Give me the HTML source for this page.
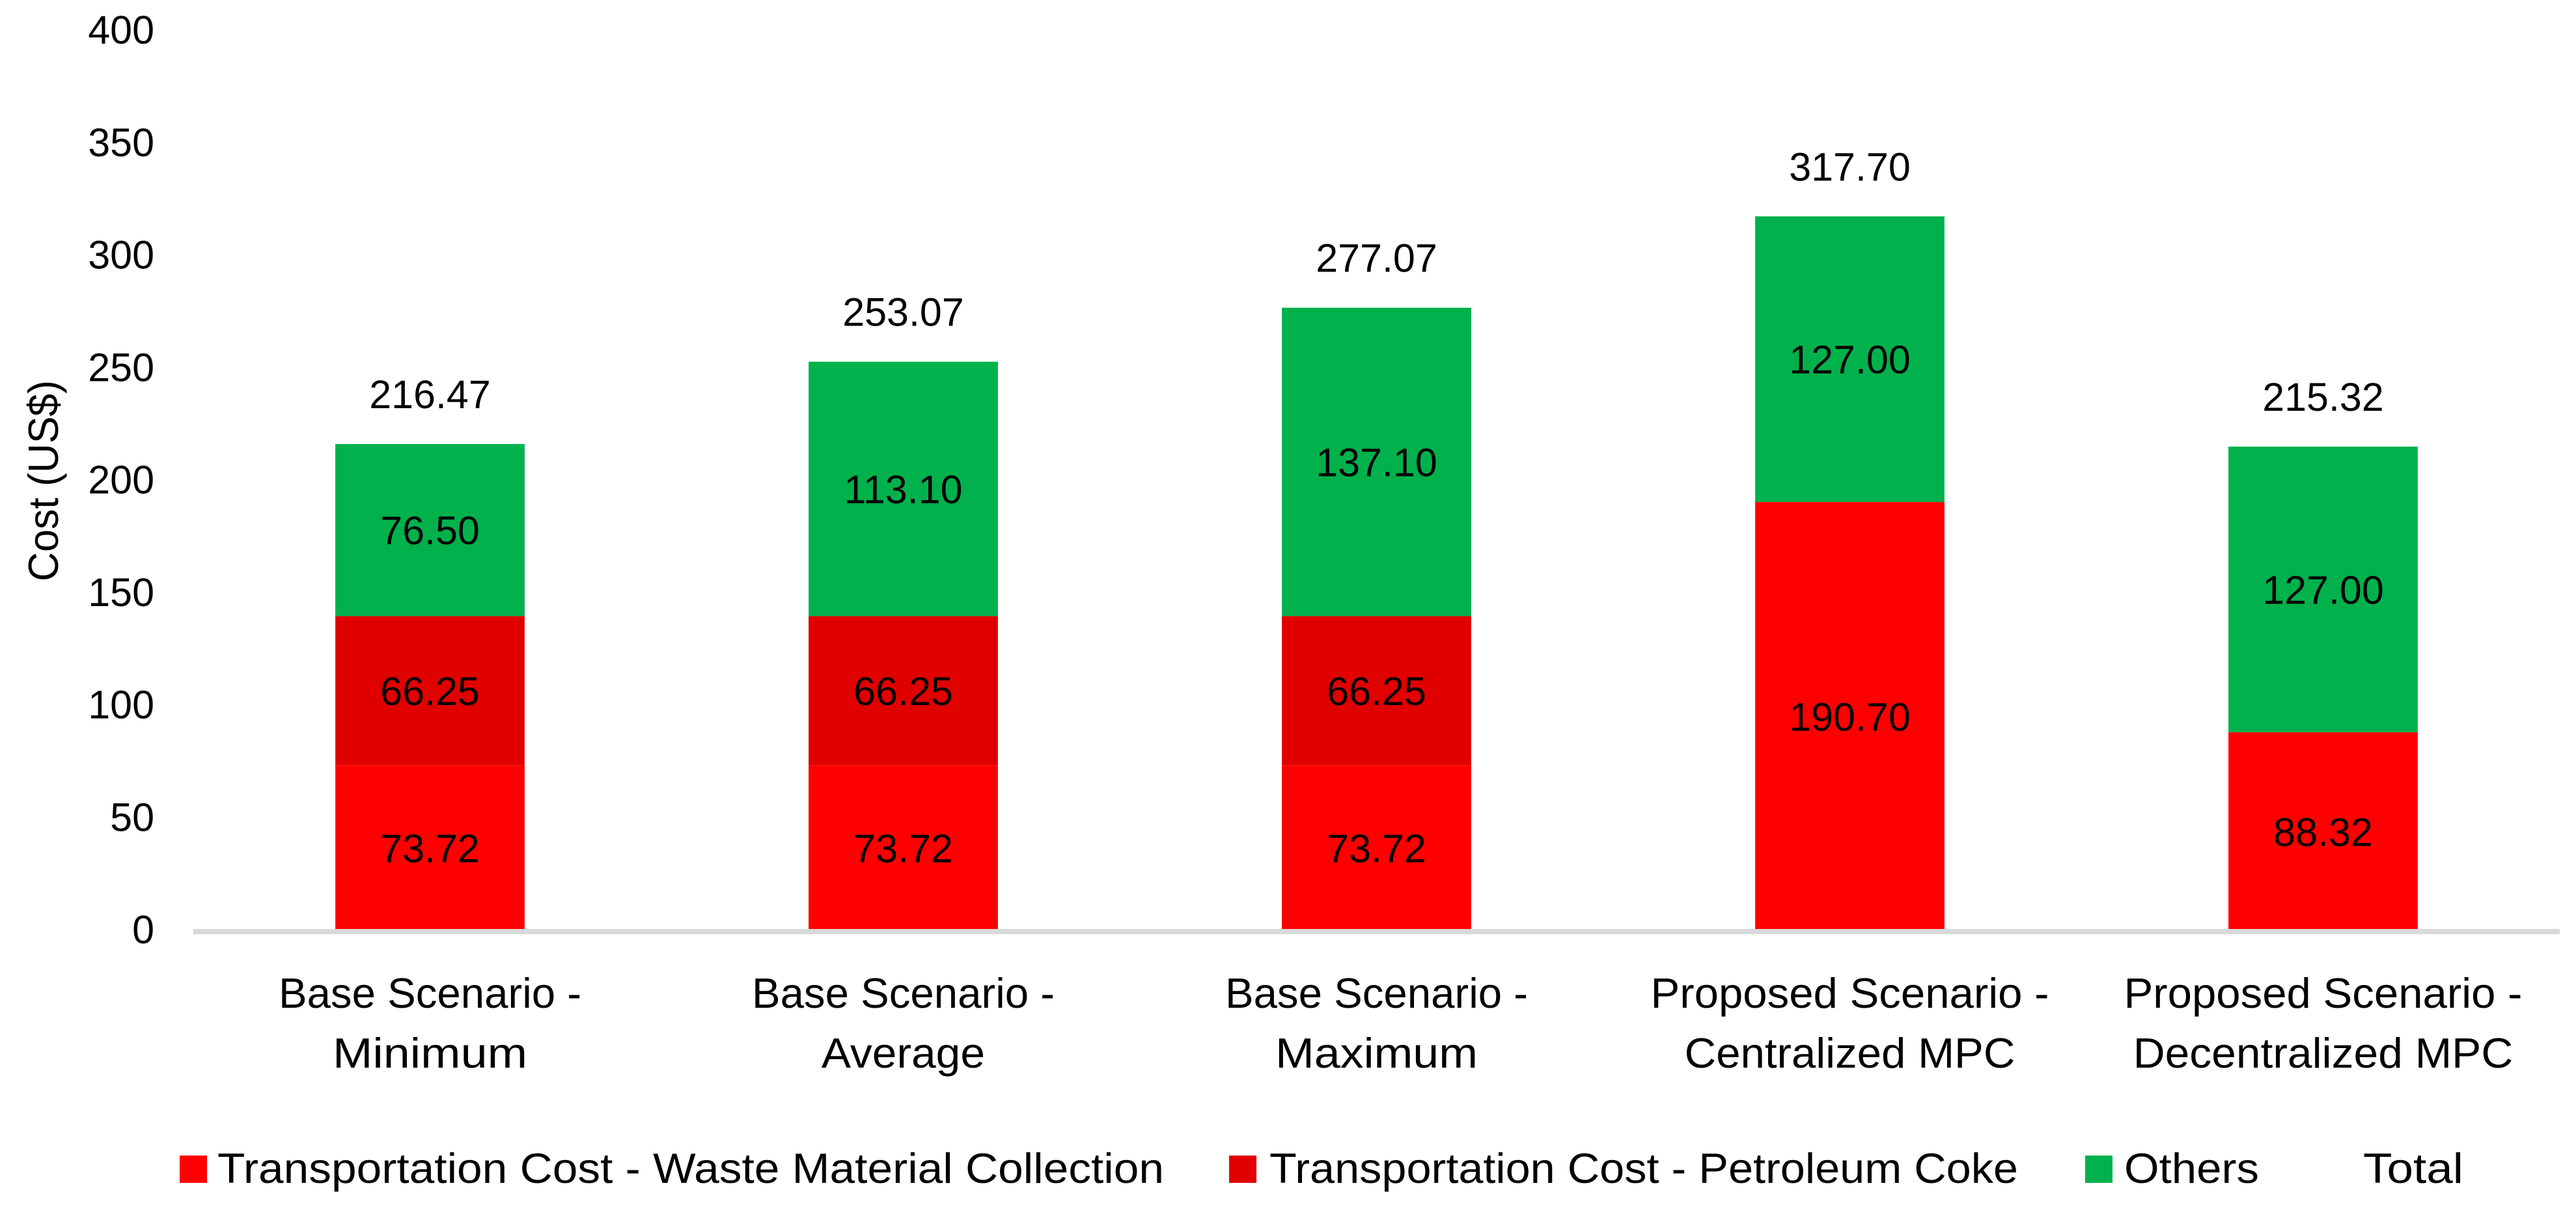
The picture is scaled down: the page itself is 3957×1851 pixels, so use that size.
<!DOCTYPE html>
<html lang="en">
<head>
<meta charset="utf-8">
<title>Cost by scenario</title>
<style>
html,body{margin:0;padding:0;background:#fff;width:3957px;height:1851px;overflow:hidden}
svg{display:block}
text{font-family:"Liberation Sans",sans-serif;fill:#000}
.num{font-size:61px}
.lab{font-size:65px}
</style>
</head>
<body>
<svg id="chart" xmlns="http://www.w3.org/2000/svg" width="3957" height="1851" viewBox="0 0 3957 1851">
<rect x="0" y="0" width="3957" height="1851" fill="#fff"/>
<g id="bars"></g>
<g id="labels"></g>
<g id="yaxis"></g>
<g id="xaxis"></g>
<text class="lab" transform="translate(89,893) rotate(-90)" textLength="309" lengthAdjust="spacingAndGlyphs">Cost (US$)</text>
<g>
<g>
<rect x="276" y="1775" width="42" height="42" fill="#FF0000"/>
<text class="lab" x="334" y="1817" textLength="1454" lengthAdjust="spacingAndGlyphs">Transportation Cost - Waste Material Collection</text>
</g>
<g>
<rect x="1888" y="1775" width="42" height="42" fill="#E00000"/>
<text class="lab" x="1950" y="1817" textLength="1150" lengthAdjust="spacingAndGlyphs">Transportation Cost - Petroleum Coke</text>
</g>
<g>
<rect x="3203" y="1775" width="42" height="42" fill="#00B14C"/>
<text class="lab" x="3263" y="1817" textLength="207" lengthAdjust="spacingAndGlyphs">Others</text>
</g>
<g>
<text class="lab" x="3630" y="1817" textLength="154" lengthAdjust="spacingAndGlyphs">Total</text>
</g>
</g>
</svg>
<script>
const categoryLine1 = ["Base Scenario -", "Base Scenario -", "Base Scenario -", "Proposed Scenario -", "Proposed Scenario -"];
const categoryLine2 = ["Minimum", "Average", "Maximum", "Centralized MPC", "Decentralized MPC"];
const wasteCollection = [73.72, 73.72, 73.72, 190.70, 88.32];
const petroleumCoke = [66.25, 66.25, 66.25, 0, 0];
const others = [76.50, 113.10, 137.10, 127.00, 127.00];
const totals = [216.47, 253.07, 277.07, 317.70, 215.32];
const yTicks = [0, 50, 100, 150, 200, 250, 300, 350, 400];

const plotLeft = 297, plotRight = 3932, baseY = 1430, unit = 3.455, barRatio = 0.4;
const band = (plotRight - plotLeft) / categoryLine1.length;
const NS = "http://www.w3.org/2000/svg";
function xCenter(i) { return plotLeft + band * (i + 0.5); }
function yPos(v) { return baseY - v * unit; }
function make(tag, attrs, parent) {
  const el = document.createElementNS(NS, tag);
  for (const k in attrs) el.setAttribute(k, attrs[k]);
  parent.appendChild(el);
  return el;
}
const calibri = {" ":.226,"-":.306,A:.579,B:.544,C:.533,D:.615,M:.855,P:.517,S:.459,a:.479,c:.423,d:.525,e:.498,g:.471,i:.229,l:.229,m:.799,n:.525,o:.527,p:.525,r:.349,s:.391,t:.335,u:.525,v:.452,x:.433,z:.395};
function labelWidth(s) {
  let w = 0;
  for (const ch of s) w += calibri[ch] || 0.5;
  return w * 75.5;
}

const barsG = document.getElementById("bars");
const labelsG = document.getElementById("labels");
const yG = document.getElementById("yaxis");
const xG = document.getElementById("xaxis");

const stackNames = ["waste-collection", "petroleum-coke", "others"];
const stackColors = ["#FF0000", "#E00000", "#00B14C"];
const stacks = [wasteCollection, petroleumCoke, others];
const barWidth = band * barRatio;

categoryLine1.forEach(function (_, i) {
  let cum = 0;
  stacks.forEach(function (series, s) {
    const v = series[i];
    if (v > 0) {
      const top = yPos(cum + v), bottom = yPos(cum);
      const r = make("rect", { x: xCenter(i) - barWidth / 2, y: top, width: barWidth, height: bottom - top, fill: stackColors[s] }, barsG);
      
      
      const t = make("text", { class: "num", x: xCenter(i), y: (top + bottom) / 2 + 22, "text-anchor": "middle" }, labelsG);
      
      
      t.textContent = v.toFixed(2);
    }
    cum += v;
  });
  const total = make("text", { class: "num", x: xCenter(i), y: yPos(totals[i]) - 55, "text-anchor": "middle" }, labelsG);
  
  
  total.textContent = totals[i].toFixed(2);

  const l1 = make("text", { class: "lab", x: xCenter(i), y: 1548, "text-anchor": "middle", textLength: labelWidth(categoryLine1[i]), lengthAdjust: "spacingAndGlyphs" }, xG);
  
  
  l1.textContent = categoryLine1[i];
  const l2 = make("text", { class: "lab", x: xCenter(i), y: 1640, "text-anchor": "middle", textLength: labelWidth(categoryLine2[i]), lengthAdjust: "spacingAndGlyphs" }, xG);
  
  
  l2.textContent = categoryLine2[i];
});

yTicks.forEach(function (v) {
  const t = make("text", { class: "num", x: 237, y: yPos(v) + 19, "text-anchor": "end" }, yG);
  
  
  t.textContent = v;
});

const axisLine = make("rect", { x: plotLeft, y: 1427, width: plotRight - plotLeft, height: 8, fill: "#D9D9D9" }, xG);


</script>
</body>
</html>
